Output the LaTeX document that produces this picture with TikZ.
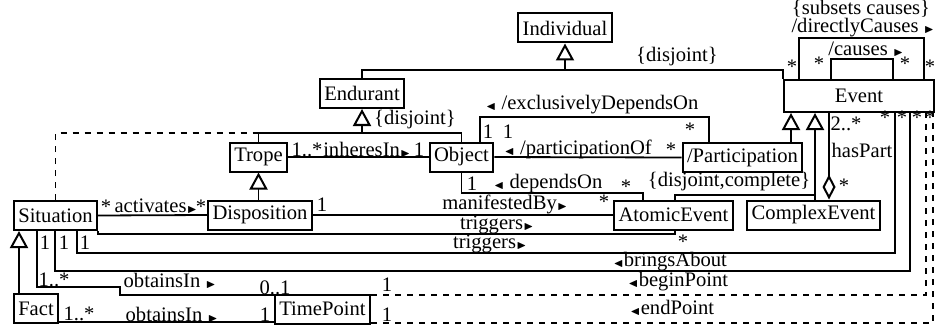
\documentclass[tikz,border=0pt]{standalone}
\usepackage{fontspec}
\setmainfont{Liberation Serif}
\usepackage{amssymb}
\usetikzlibrary{arrows.meta}
\tikzstyle{cls}=[draw,line width=1pt,inner xsep=2.2pt,inner ysep=0pt,minimum height=14.5pt]
\tikzstyle{lbl}=[inner sep=0pt]
\tikzstyle{link}=[line width=0.9pt]
\tikzstyle{gen}=[line width=0.9pt,-{Triangle[open,length=8.5pt,width=9pt,line width=1pt]}]
\tikzstyle{agg}=[line width=0.9pt,-{Diamond[open,length=12.5pt,width=6.5pt,line width=1pt]}]
\newcommand{\rtri}{{\tiny$\blacktriangleright$}}
\newcommand{\ltri}{{\tiny$\blacktriangleleft$}}

\begin{document}
\begin{tikzpicture}[x=0.5pt,y=-0.5pt,font=\fontsize{10.3}{11}\selectfont]
\useasboundingbox (0,0) rectangle (936,326);

% classes
\node[cls] (individual) at (565,28) {Individual};
\node[cls] (endurant) at (362,93.5) {Endurant};
\node[cls,minimum width=75pt,minimum height=16pt] (event) at (859,96) {Event};
\node[cls] (trope) at (258.5,157) {Trope};
\node[cls] (object) at (461.5,157) {Object};
\node[cls] (participation) at (742.5,157.5) {/Participation};
\node[cls] (situation) at (55.5,215.5) {Situation};
\node[cls] (disposition) at (260,215) {Disposition};
\node[cls] (atomic) at (673.5,215) {AtomicEvent};
\node[cls] (complex) at (813.5,215) {ComplexEvent};
\node[cls] (fact) at (36,308.5) {Fact};
\node[cls] (timepoint) at (322.5,309) {TimePoint};

% generalizations
\coordinate (jInd) at (565,70);
\draw[link] (endurant.north) |- (jInd) -| (event.north west);
\draw[gen] (jInd) -- (individual.south);
\node[lbl] (djInd) at (677,57) {\{disjoint\}};

\coordinate (jEnd) at (362,133);
\draw[link] (trope.north) |- (jEnd) -| (object.north);
\draw[gen] (jEnd) -- (endurant.south);
\node[lbl] (djEnd) at (415,120) {\{disjoint\}};
\draw[link,dashed] (situation.north) |- (trope.north |- jEnd);

\draw[gen] (trope.south |- disposition.north) -- (trope.south);
\draw[gen] (fact.north -| 19,0) -- (situation.south -| 19,0);

\draw[gen] (participation.north -| 791,0) -- (event.south -| 791,0);
\coordinate (jEv) at (815,195);
\draw[link] (atomic.north -| 675,0) |- (jEv) -- (complex.north -| jEv);
\draw[gen] (complex.north -| jEv) -- (event.south -| jEv);
\node[lbl] (djEv) at (729,182) {\{disjoint,complete\}};

% aggregation
\draw[agg] (event.south -| 829,0) -- (complex.north -| 829,0);
\node[lbl] (hpA) at (846,124) {2..*};
\node[lbl] (hpB) at (862,150) {hasPart};
\node[lbl] (hpC) at (844,186) {*};

% causes loops
\draw[link] (event.north -| 799,0) |- (924,38) -- (event.north -| 924,0);
\draw[link] (event.north -| 831,0) |- (893,59) -- (event.north -| 893,0);
\node[lbl] (subs) at (861,9) {\{subsets causes\}};
\node[lbl] (dc) at (863,28) {/directlyCauses \rtri};
\node[lbl] (cs) at (866,49) {/causes \rtri};
\node[lbl] (dcA) at (792,67) {*};
\node[lbl] (dcB) at (930,67) {*};
\node[lbl] (csA) at (819,64) {*};
\node[lbl] (csB) at (905,64) {*};

% associations
\draw[link] (trope.east) -- (object.west);
\node[lbl] (inA) at (307,150) {1..*};
\node[lbl] (inB) at (367,150) {inheresIn\rtri};
\node[lbl] (inC) at (419,150) {1};

\draw[link] (object.east) -- (participation.west);
\node[lbl] (poA) at (508,132) {1};
\node[lbl] (poB) at (578,149) {\ltri\ /participationOf};
\node[lbl] (poC) at (671,150) {*};

\draw[link] (object.north -| 480,0) |- (709,117) -- (participation.north -| 709,0);
\node[lbl] (edA) at (488,132) {1};
\node[lbl] (edB) at (592,105) {\ltri\ /exclusivelyDependsOn};
\node[lbl] (edC) at (690,130) {*};

\draw[link] (object.south) |- (643,193) -- (atomic.north -| 643,0);
\node[lbl] (doA) at (472,184) {1};
\node[lbl] (doB) at (548,184) {\ltri\ dependsOn};
\node[lbl] (doC) at (626,187) {*};

\draw[link] (situation.east) -- (disposition.west);
\node[lbl] (acA) at (106,207) {*};
\node[lbl] (acB) at (156,206) {activates\rtri};
\node[lbl] (acC) at (201,207) {*};

\draw[link] (disposition.east) -- (atomic.west);
\node[lbl] (mbA) at (322,205) {1};
\node[lbl] (mbB) at (505,204) {manifestedBy\rtri};
\node[lbl] (mbC) at (604,202) {*};

\draw[link] (situation.south east) |- (675,234) -- (atomic.south -| 675,0);
\node[lbl] (trA) at (497,225) {triggers\rtri};
\node[lbl] (trB) at (683,242) {*};

\draw[link] (situation.south -| 77,0) |- (895,253) -- (event.south -| 895,0);
\node[lbl] (tsA) at (85,243) {1};
\node[lbl] (tsB) at (490,244) {triggers\rtri};
\node[lbl] (tsC) at (885,118) {*};

\draw[link] (situation.south -| 55,0) |- (910,271) -- (event.south -| 910,0);
\node[lbl] (baA) at (64,243) {1};
\node[lbl] (baB) at (670,262) {\ltri bringsAbout};
\node[lbl] (baC) at (902,118) {*};

\draw[link] (situation.south -| 37,0) |- (120,287) |- (timepoint.west |- 0,295);
\node[lbl] (osA) at (54,280) {1..*};
\node[lbl] (osD) at (45,243) {1};
\node[lbl] (osB) at (170,281) {obtainsIn \rtri};
\node[lbl] (osC) at (275,288) {0..1};

\draw[link] (fact.east |- 0,322) -- (timepoint.west |- 0,322);
\node[lbl] (ofA) at (79,314) {1..*};
\node[lbl] (ofB) at (172,315) {obtainsIn \rtri};
\node[lbl] (ofC) at (265,315) {1};

\draw[link,dashed] (timepoint.east |- 0,295) -| (event.south -| 926,0);
\node[lbl] (bpA) at (387,285) {1};
\node[lbl] (bpB) at (678,282) {\ltri beginPoint};
\node[lbl] (bpC) at (917,118) {*};

\draw[link,dashed] (timepoint.east |- 0,323) -| (event.south -| 933,0);
\node[lbl] (epA) at (387,315) {1};
\node[lbl] (epB) at (672,308) {\ltri endPoint};
\node[lbl] (epC) at (930,118) {*};
\end{tikzpicture}
\end{document}
